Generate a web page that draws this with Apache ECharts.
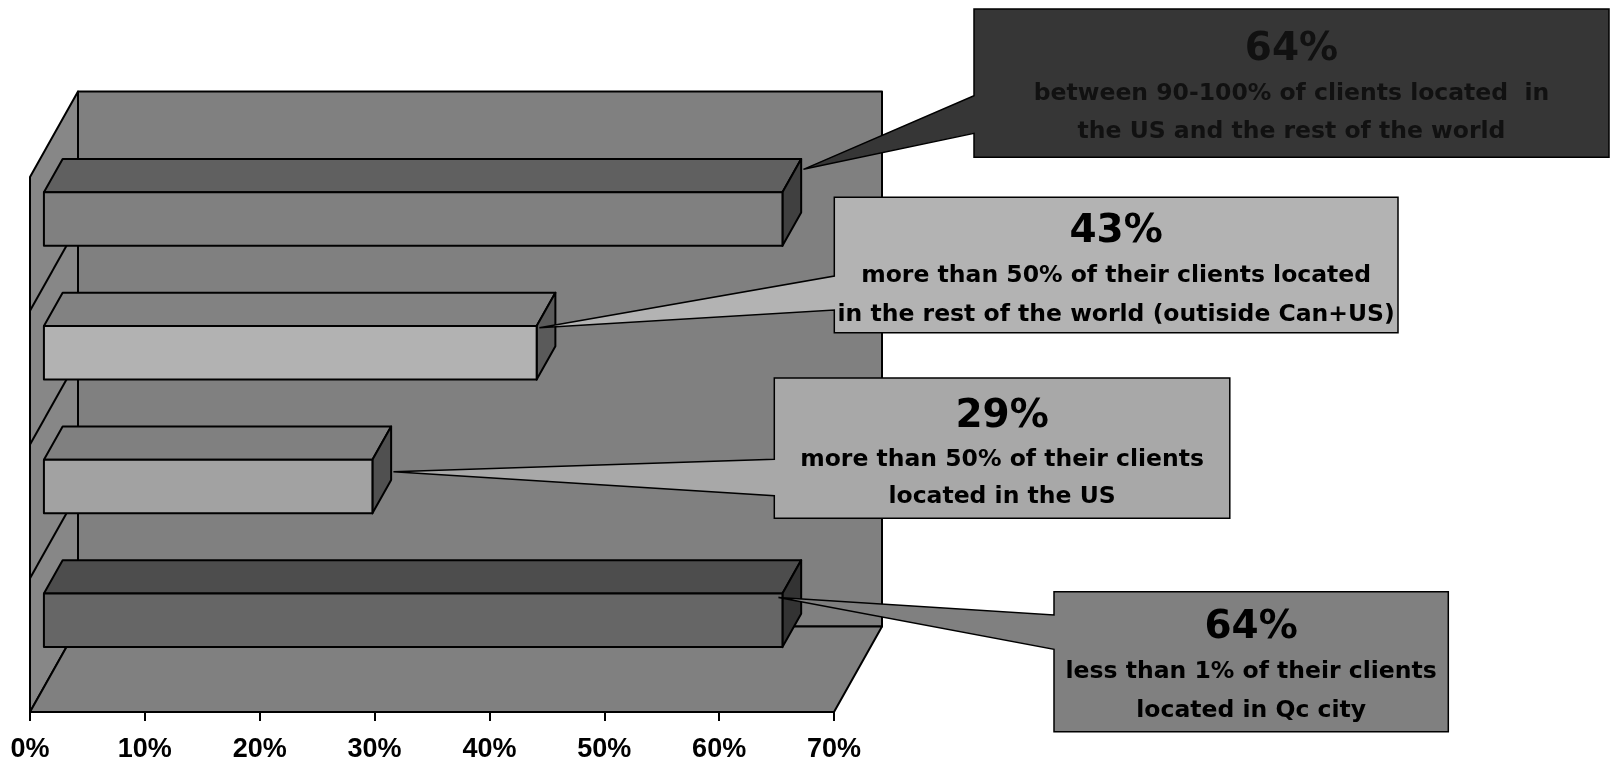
<!DOCTYPE html>
<html><head><meta charset="utf-8">
<script src="https://cdn.jsdelivr.net/npm/echarts@6/dist/echarts.min.js"></script>
<style>html,body{margin:0;padding:0;background:#fff}#c{width:1611px;height:757px}</style>
</head><body><div id="c"></div>
<script>
// ---- data (top to bottom) ----
const categories = [
  'Between 90-100% of clients in the US and the rest of the world',
  'More than 50% of clients in the rest of the world',
  'More than 50% of clients in the US',
  'Less than 1% of clients in Qc city'
];
const values = [64.3, 42.9, 28.6, 64.3];
const calloutLine1 = [
  'between 90-100% of clients located  in',
  'more than 50% of their clients located',
  'more than 50% of their clients',
  'less than 1% of their clients'
];
const calloutLine2 = [
  'the US and the rest of the world',
  'in the rest of the world (outiside Can+US)',
  'located in the US',
  'located in Qc city'
];
const xMin = 0, xMax = 70, xStep = 10;

// ---- styles / layout ----
const DEPTH = [48, -85.5];
const BAR_FRONT = 0.29, BAR_BACK = 0.68, BAR_FRAC = 0.4;
const barFaces = [
  {front: '#808080', top: '#606060', side: '#404040'},
  {front: '#b2b2b2', top: '#828282', side: '#5a5a5a'},
  {front: '#a2a2a2', top: '#808080', side: '#505050'},
  {front: '#666666', top: '#4d4d4d', side: '#333333'}
];
const TY = 3;
const boxes = [
  {l: 974, t: 9, r: 1609, b: 157.3, a1: 95.7, a2: 133.3, tip: [21, -23], fill: '#363636', ty: [47.3, 90.4, 128.4]},
  {l: 834.3, t: 197.3, r: 1398, b: 332.7, a1: 276, a2: 310, tip: [2.7, 1.7], fill: '#b3b3b3', ty: [229, 273.3, 312.3]},
  {l: 774.3, t: 378, r: 1229.8, b: 518.3, a1: 459.3, a2: 495.7, tip: [21, 12], fill: '#a8a8a8', ty: [414, 457, 494]},
  {l: 1054, t: 591.7, r: 1448.3, b: 731.7, a1: 615, a2: 649.3, tip: [-4, 4], fill: '#808080', ty: [624.7, 668.8, 708]}
];
const LINE = {stroke: '#000', lineWidth: 2, lineJoin: 'round'};
const FONT = 'DejaVu Sans';

const chart = echarts.init(document.getElementById('c'));

function renderWalls(params, api) {
  const cs = params.coordSys;
  const L = cs.x, T = cs.y, R = cs.x + cs.width, B = cs.y + cs.height;
  const dx = DEPTH[0], dy = DEPTH[1];
  const ch = [];
  ch.push({type: 'polygon', shape: {points: [[L + dx, T + dy], [R + dx, T + dy], [R + dx, B + dy], [L + dx, B + dy]]}, style: Object.assign({fill: '#808080'}, LINE)});
  ch.push({type: 'polygon', shape: {points: [[L, T], [L + dx, T + dy], [L + dx, B + dy], [L, B]]}, style: Object.assign({fill: '#878787'}, LINE)});
  ch.push({type: 'polygon', shape: {points: [[L, B], [L + dx, B + dy], [R + dx, B + dy], [R, B]]}, style: Object.assign({fill: '#808080'}, LINE)});
  for (let k = 1; k < categories.length; k++) {
    const y = (api.coord([0, k - 1])[1] + api.coord([0, k])[1]) / 2;
    ch.push({type: 'line', shape: {x1: L, y1: y, x2: L + dx, y2: y + dy}, style: LINE});
  }
  return {type: 'group', children: ch};
}

function barGeom(api, i, v) {
  const p0 = api.coord([0, i]), p1 = api.coord([v, i]);
  const band = api.size([0, 1])[1];
  const h = band * BAR_FRAC / 2;
  const f = [DEPTH[0] * BAR_FRONT, DEPTH[1] * BAR_FRONT];
  const b = [DEPTH[0] * BAR_BACK, DEPTH[1] * BAR_BACK];
  return {x0: p0[0], x1: p1[0], y0: p0[1] - h, y1: p0[1] + h, f: f, b: b};
}

function renderBar(params, api) {
  const i = api.value(1), v = api.value(0);
  const g = barGeom(api, i, v);
  const {x0, x1, y0, y1, f, b} = g;
  const c = barFaces[i];
  return {type: 'group', children: [
    {type: 'polygon', shape: {points: [[x0 + f[0], y0 + f[1]], [x0 + b[0], y0 + b[1]], [x1 + b[0], y0 + b[1]], [x1 + f[0], y0 + f[1]]]}, style: Object.assign({fill: c.top}, LINE)},
    {type: 'polygon', shape: {points: [[x1 + f[0], y0 + f[1]], [x1 + b[0], y0 + b[1]], [x1 + b[0], y1 + b[1]], [x1 + f[0], y1 + f[1]]]}, style: Object.assign({fill: c.side}, LINE)},
    {type: 'polygon', shape: {points: [[x0 + f[0], y0 + f[1]], [x1 + f[0], y0 + f[1]], [x1 + f[0], y1 + f[1]], [x0 + f[0], y1 + f[1]]]}, style: Object.assign({fill: c.front}, LINE)}
  ]};
}

function renderCallout(params, api) {
  const i = api.value(1), v = api.value(0);
  const g = barGeom(api, i, v);
  const bx = boxes[i];
  const tip = [g.x1 + g.f[0] + bx.tip[0], g.y0 + g.f[1] + bx.tip[1]];
  const pts = [[bx.l, bx.t], [bx.r, bx.t], [bx.r, bx.b], [bx.l, bx.b], [bx.l, bx.a2], tip, [bx.l, bx.a1]];
  const cx = (bx.l + bx.r) / 2;
  const col = i === 0 ? '#111' : '#000';
  return {type: 'group', children: [
    {type: 'polygon', shape: {points: pts}, style: {fill: bx.fill, stroke: '#000', lineWidth: 1.5, lineJoin: 'miter'}},
    {type: 'text', style: {text: Math.round(v) + '%', x: cx, y: bx.ty[0] + TY, align: 'center', verticalAlign: 'middle', fill: col, font: 'bold 39px "' + FONT + '"'}},
    {type: 'text', style: {text: calloutLine1[i], x: cx, y: bx.ty[1] + TY, align: 'center', verticalAlign: 'middle', fill: col, font: 'bold 23.5px "' + FONT + '"'}},
    {type: 'text', style: {text: calloutLine2[i], x: cx, y: bx.ty[2] + TY, align: 'center', verticalAlign: 'middle', fill: col, font: 'bold 23.5px "' + FONT + '"'}}
  ]};
}

const barData = values.map((v, i) => [v, i]);

chart.setOption({
  animation: false,
  backgroundColor: '#fff',
  grid: {left: 30, top: 177, width: 804, height: 535, containLabel: false, outerBoundsMode: 'none'},
  xAxis: {
    type: 'value', min: xMin, max: xMax, interval: xStep,
    axisLine: {show: true, lineStyle: {color: '#000', width: 2}},
    axisTick: {show: true, length: 9, lineStyle: {color: '#000', width: 2}},
    splitLine: {show: false},
    axisLabel: {formatter: '{value}%', color: '#000', fontFamily: 'Liberation Sans', fontWeight: 'bold', fontSize: 27, margin: 24}
  },
  yAxis: {type: 'category', inverse: true, data: categories, show: false},
  series: [
    {type: 'custom', coordinateSystem: 'cartesian2d', data: [[0, 0]], renderItem: renderWalls, clip: false, z: 1, silent: true},
    {type: 'custom', coordinateSystem: 'cartesian2d', data: barData, renderItem: renderBar, clip: false, z: 2, encode: {x: 0, y: 1}},
    {type: 'custom', coordinateSystem: 'cartesian2d', data: barData, renderItem: renderCallout, clip: false, z: 3, encode: {x: 0, y: 1}}
  ]
});
</script>
</body></html>
